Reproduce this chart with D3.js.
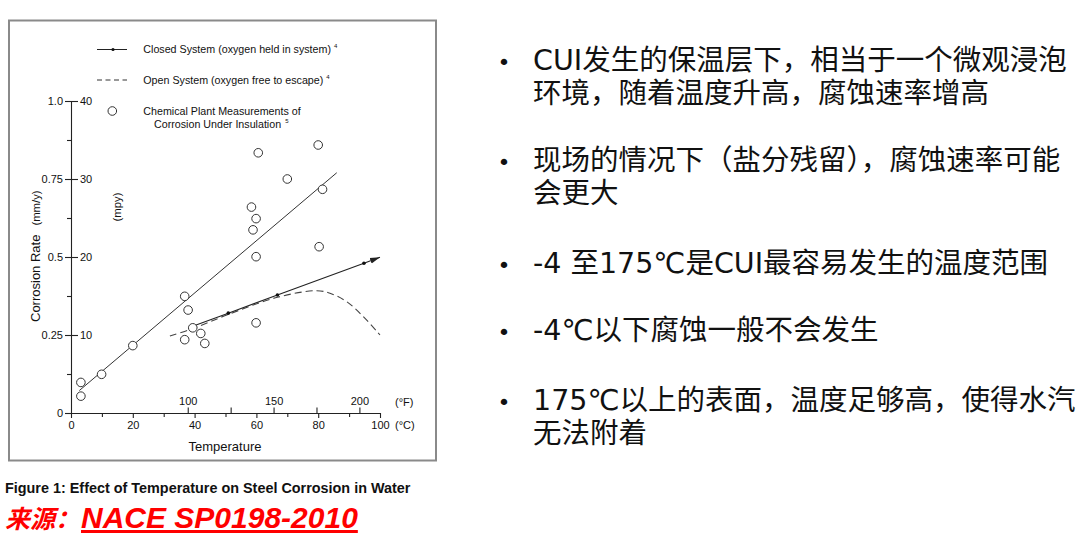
<!DOCTYPE html>
<html>
<head>
<meta charset="utf-8">
<script src="https://cdn.jsdelivr.net/npm/d3@7"></script>
<style>
  body{margin:0;background:#fff;}
  svg{display:block;}
  .chart text{font-family:"Liberation Sans",Arial,sans-serif;fill:#111;}
  .axis path,.axis line{stroke:#222;stroke-width:1.1;}
  .axis text{font-size:11px;fill:#111;}
</style>
</head>
<body>
<svg width="1080" height="542"></svg>
<script>
// plant measurements (°C, mm/y)
var plantTemp=[3.2,3.2,9.9,20,36.8,37.9,39.4,36.8,42,43.3,59.9,80.3,59.9,60.6,80,70,81.4,58.4,59.9,58.9];
var plantRate=[0.054,0.098,0.124,0.216,0.374,0.33,0.273,0.235,0.255,0.223,0.501,0.533,0.289,0.834,0.859,0.75,0.717,0.66,0.623,0.587];
// straight fit through plant data
var fitTemp=[2.7,86];
var fitRate=[0.072,0.770];
// closed system (arrow line)
var closedTemp=[39.6,50.9,66.8,94.8,100];
var closedRate=[0.279,0.32,0.378,0.48,0.499];
var closedDots=[0,1,2,3];
// open system (dashed)
var openTemp=[32,39.6,50.4,66.8,79.5,83.8,89.2,94.6,100];
var openRate=[0.247,0.271,0.314,0.371,0.392,0.384,0.357,0.309,0.25];
// ticks
var cTicks=[0,20,40,60,80,100];
var cMinor=[10,30,50,70,90];
var fTicks=[100,125,150,175,200];
var fLabels=["100","","150","","200"];
var mmTicks=[0,0.25,0.5,0.75,1];
var mmLabels=["0","0.25","0.5","0.75","1.0"];
var mmMinor=[0.125,0.375,0.625,0.875];
var mpyTicks=[10,20,30,40];
// right side notes
var bullets=[
  ["CUI发生的保温层下，相当于一个微观浸泡","环境，随着温度升高，腐蚀速率增高"],
  ["现场的情况下（盐分残留），腐蚀速率可能","会更大"],
  ["-4 至175℃是CUI最容易发生的温度范围"],
  ["-4℃以下腐蚀一般不会发生"],
  ["175℃以上的表面，温度足够高，使得水汽","无法附着"]
];
var bulletY=[70,170,273,340,410];

var svg=d3.select("svg");
var chart=svg.append("g").attr("class","chart");

// frame
chart.append("rect")
  .attr("x",9).attr("y",20.5).attr("width",427).attr("height",440)
  .attr("fill","none").attr("stroke","#8a8a8a").attr("stroke-width",2);

var x=d3.scaleLinear().domain([0,100]).range([71,380]);
var xF=d3.scaleLinear().domain([32,212]).range([71,380]);
var y=d3.scaleLinear().domain([0,1]).range([413,101]);
var yMpy=d3.scaleLinear().domain([0,40]).range([413,101]);

// axes
chart.append("g").attr("class","axis").attr("transform","translate(0,413)")
  .call(d3.axisBottom(x).tickValues(cTicks).tickSize(5).tickPadding(3).tickSizeOuter(0));
chart.append("g").attr("class","axis").attr("transform","translate(0,413)")
  .call(d3.axisBottom(x).tickValues(cMinor).tickSize(4).tickFormat("").tickSizeOuter(0))
  .select(".domain").remove();
var fAx=chart.append("g").attr("class","axis").attr("transform","translate(0,413)")
  .call(d3.axisTop(xF).tickValues(fTicks).tickSize(5.5).tickPadding(2.5)
    .tickFormat(function(d,i){return fLabels[i];}));
fAx.select(".domain").remove();

chart.append("g").attr("class","axis").attr("transform","translate(71,0)")
  .call(d3.axisLeft(y).tickValues(mmTicks).tickSize(6).tickPadding(2).tickSizeOuter(0)
    .tickFormat(function(d,i){return mmLabels[i];}));
chart.append("g").attr("class","axis").attr("transform","translate(71,0)")
  .call(d3.axisLeft(y).tickValues(mmMinor).tickSize(4).tickFormat(""))
  .select(".domain").remove();
chart.append("g").attr("class","axis").attr("transform","translate(71,0)")
  .call(d3.axisRight(yMpy).tickValues(mpyTicks).tickSize(7).tickPadding(2))
  .select(".domain").remove();

// unit + axis titles
chart.append("text").attr("x",395).attr("y",405.5).attr("font-size","11px").text("(°F)");
chart.append("text").attr("x",395).attr("y",429).attr("font-size","11px").text("(°C)");
chart.append("text").attr("x",225).attr("y",451).attr("text-anchor","middle")
  .attr("font-size","13px").text("Temperature");
var yt=chart.append("text").attr("transform","translate(39.5,322)rotate(-90)")
  .attr("font-size","13px");
yt.append("tspan").text("Corrosion Rate");
yt.append("tspan").attr("dx",9).attr("font-size","11.3px").text("(mm/y)");
chart.append("text").attr("transform","translate(121,207)rotate(-90)")
  .attr("text-anchor","middle").attr("font-size","11.3px").text("(mpy)");

// arrow marker
svg.append("defs").append("marker")
  .attr("id","arrow").attr("viewBox","0 -4 10 8")
  .attr("refX",10).attr("refY",0)
  .attr("markerWidth",10).attr("markerHeight",8)
  .attr("markerUnits","userSpaceOnUse").attr("orient","auto")
  .append("path").attr("d","M0,-3L10,0L0,3Z").attr("fill","#222");

var line=d3.line().x(function(d){return x(d[0]);}).y(function(d){return y(d[1]);});

// fit line
chart.append("path").datum(d3.zip(fitTemp,fitRate))
  .attr("d",line).attr("fill","none").attr("stroke","#333").attr("stroke-width",1);

// open system
chart.append("path").datum(d3.zip(openTemp,openRate))
  .attr("d",line.curve(d3.curveCatmullRom))
  .attr("fill","none").attr("stroke","#444").attr("stroke-width",1.1)
  .attr("stroke-dasharray","7,4");
line.curve(d3.curveLinear);

// closed system
chart.append("path").datum(d3.zip(closedTemp,closedRate))
  .attr("d",line).attr("fill","none").attr("stroke","#222").attr("stroke-width",1.1)
  .attr("marker-end","url(#arrow)");
chart.selectAll("circle.cdot").data(closedDots).enter().append("circle")
  .attr("class","cdot")
  .attr("cx",function(i){return x(closedTemp[i]);})
  .attr("cy",function(i){return y(closedRate[i]);})
  .attr("r",1.8).attr("fill","#111");

// plant measurements
chart.selectAll("circle.pt").data(d3.zip(plantTemp,plantRate)).enter().append("circle")
  .attr("class","pt")
  .attr("cx",function(d){return x(d[0]);})
  .attr("cy",function(d){return y(d[1]);})
  .attr("r",4.3).attr("fill","#fff").attr("stroke","#333").attr("stroke-width",1);

// legend
var lg=chart.append("g").attr("font-size","10.7px");
lg.append("line").attr("x1",97).attr("x2",127).attr("y1",49.5).attr("y2",49.5)
  .attr("stroke","#222").attr("stroke-width",1);
lg.append("circle").attr("cx",113).attr("cy",49.5).attr("r",1.6).attr("fill","#111");
lg.append("line").attr("x1",97).attr("x2",127).attr("y1",80).attr("y2",80)
  .attr("stroke","#333").attr("stroke-width",1).attr("stroke-dasharray","5,3.5");
lg.append("circle").attr("cx",112.3).attr("cy",111).attr("r",4.3)
  .attr("fill","#fff").attr("stroke","#333");
var t1=lg.append("text").attr("x",143.3).attr("y",53.3);
t1.append("tspan").text("Closed System (oxygen held in system)");
t1.append("tspan").attr("dx",3).attr("dy",-5).attr("font-size","6px").text("4");
var t2=lg.append("text").attr("x",143.3).attr("y",84.3);
t2.append("tspan").text("Open System (oxygen free to escape)");
t2.append("tspan").attr("dx",3).attr("dy",-5).attr("font-size","6px").text("4");
lg.append("text").attr("x",143.3).attr("y",114.5).text("Chemical Plant Measurements of");
var t3=lg.append("text").attr("x",154).attr("y",127.7);
t3.append("tspan").text("Corrosion Under Insulation");
t3.append("tspan").attr("dx",4).attr("dy",-5).attr("font-size","6px").text("5");

// caption
svg.append("text").attr("x",5).attr("y",493.3)
  .attr("font-family","'Liberation Sans',Arial,sans-serif")
  .attr("font-weight","bold").attr("font-size","14.4px").attr("fill","#111")
  .text("Figure 1: Effect of Temperature on Steel Corrosion in Water");
svg.append("text").attr("x",5).attr("y",528)
  .attr("font-family","'Noto Sans CJK SC',sans-serif")
  .attr("font-weight","bold").attr("font-style","italic").attr("font-size","25px").attr("fill","#ff0000")
  .text("来源：");
svg.append("text").attr("x",81).attr("y",528)
  .attr("font-family","'Liberation Sans',Arial,sans-serif")
  .attr("font-weight","bold").attr("font-style","italic").attr("font-size","30px").attr("fill","#ff0000")
  .attr("text-decoration","underline")
  .text("NACE SP0198-2010");

// notes on the right
var notes=svg.append("g")
  .attr("font-family","'DejaVu Sans','Noto Sans CJK SC',sans-serif")
  .attr("font-size","28.5px").attr("fill","#111");
bullets.forEach(function(lines,i){
  notes.append("text").attr("x",504).attr("y",bulletY[i]).attr("text-anchor","middle")
    .attr("font-size","22px").text("•");
  lines.forEach(function(s,j){
    notes.append("text").attr("x",533).attr("y",bulletY[i]+j*33).text(s);
  });
});
</script>
</body>
</html>
